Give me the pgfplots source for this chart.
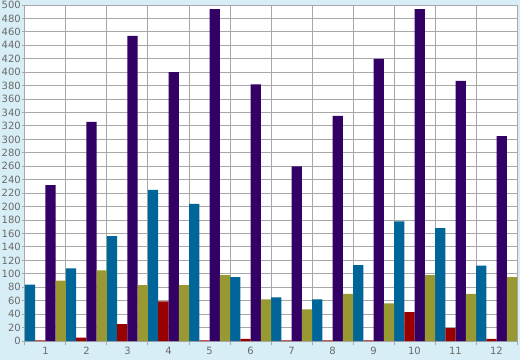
\documentclass[border=0pt]{standalone}
\usepackage{pgfplots}
\pgfplotsset{compat=1.18}
\usepackage{fontspec}
\setmainfont{DejaVu Sans}
\definecolor{bg}{HTML}{D8EEF6}
\definecolor{gridc}{HTML}{A8A8A8}
\definecolor{txt}{HTML}{6A6A6A}
\definecolor{cblue}{HTML}{006699}
\definecolor{cred}{HTML}{990000}
\definecolor{cpurple}{HTML}{330066}
\definecolor{colive}{HTML}{999933}
\begin{document}
\begin{tikzpicture}[x=1pt,y=1pt]
\fill[bg] (-25,-19) rectangle (495,341);
\begin{axis}[
  at={(0,0)}, anchor=south west,
  scale only axis, width=492pt, height=336pt,
  axis background/.style={fill=white},
  xmin=0.5, xmax=12.5, ymin=0, ymax=500,
  xtick={1,...,12},
  minor xtick={0.5,1.5,...,12.5},
  ytick={0,20,...,500},
  xminorgrids=true, ymajorgrids=true, xmajorgrids=false,
  grid style={gridc, line width=1pt},
  minor grid style={gridc, line width=1pt},
  axis line style={gridc, line width=1pt},
  tick align=outside,
  major tick length=3pt, minor tick length=4pt,
  tick style={gridc, line width=1pt},
  major x tick style={draw=none},
  axis x line*=bottom, axis y line*=left,
  tick label style={font=\fontsize{10}{12}\selectfont, text=txt},
  yticklabel style={inner sep=1pt},
  xticklabel style={inner sep=1pt, yshift=-2pt},
  /pgf/number format/assume math mode=true,
  ybar, bar width=10.25pt,
  every axis plot/.append style={draw=none},
  clip=false,
]
\addplot[fill=cblue, bar shift=-15.375pt] coordinates {(1,84)(2,108)(3,156)(4,225)(5,204)(6,95)(7,65)(8,62)(9,113)(10,178)(11,168)(12,112)};
\addplot[fill=cred, bar shift=-5.125pt] coordinates {(1,1)(2,5)(3,25)(4,59)(5,1)(6,3)(7,1)(8,1)(9,1)(10,43)(11,19)(12,3)};
\addplot[fill=cpurple, bar shift=5.125pt] coordinates {(1,232)(2,326)(3,454)(4,400)(5,494)(6,382)(7,260)(8,335)(9,420)(10,494)(11,387)(12,305)};
\addplot[fill=colive, bar shift=15.375pt] coordinates {(1,90)(2,105)(3,83)(4,83)(5,98)(6,62)(7,47)(8,70)(9,56)(10,98)(11,70)(12,95)};
\end{axis}
\pgfresetboundingbox
\path[use as bounding box] (-25,-19) rectangle (495,341);
\end{tikzpicture}
\end{document}
